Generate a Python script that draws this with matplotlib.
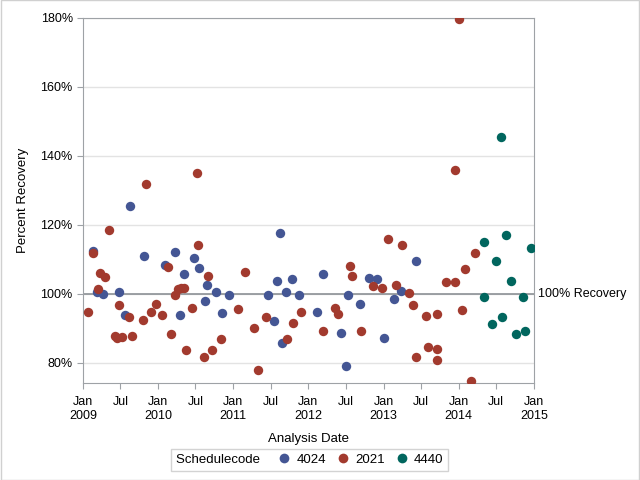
import matplotlib.pyplot as plt
import matplotlib.dates as mdates
import pandas as pd
from matplotlib.lines import Line2D
from matplotlib.patches import Rectangle

plt.rcParams['font.family'] = ['Liberation Sans', 'DejaVu Sans']

# schedule code 4024
dates_4024 = ['2009-02-16', '2009-03-08', '2009-04-05', '2009-06-26', '2009-07-21', '2009-08-18',
              '2009-10-22', '2010-02-05', '2010-03-21', '2010-04-19', '2010-05-04', '2010-06-22',
              '2010-07-16', '2010-08-15', '2010-08-25', '2010-10-09', '2010-11-06', '2010-12-10',
              '2011-06-17', '2011-07-16', '2011-07-31', '2011-08-15', '2011-08-26', '2011-09-13',
              '2011-10-12', '2011-11-16', '2012-02-10', '2012-03-11', '2012-06-07', '2012-07-01',
              '2012-07-11', '2012-09-08', '2012-10-22', '2012-11-30', '2013-01-04', '2013-02-22',
              '2013-03-26', '2013-06-07']
rec_4024 = [112.5, 100.5, 99.9, 100.5, 93.8, 125.4,
            110.9, 108.3, 112.1, 93.9, 105.7, 110.4,
            107.4, 97.9, 102.5, 100.6, 94.5, 99.6,
            99.8, 92.1, 103.7, 117.6, 85.7, 100.5,
            104.3, 99.8, 94.7, 105.7, 88.7, 79.0,
            99.7, 97.0, 104.6, 104.3, 87.2, 98.5,
            100.8, 109.5]

# schedule code 2021
dates_2021 = ['2009-01-23', '2009-02-16', '2009-03-13', '2009-03-25', '2009-04-19', '2009-05-08',
              '2009-06-05', '2009-06-14', '2009-06-26', '2009-07-11', '2009-08-10', '2009-08-26',
              '2009-10-17', '2009-11-04', '2009-11-28', '2009-12-19', '2010-01-21', '2010-02-18',
              '2010-03-06', '2010-03-21', '2010-04-08', '2010-04-22', '2010-05-05', '2010-05-18',
              '2010-06-12', '2010-07-06', '2010-07-11', '2010-08-10', '2010-08-29', '2010-09-18',
              '2010-11-01', '2011-01-23', '2011-02-28', '2011-04-10', '2011-04-29', '2011-06-07',
              '2011-09-18', '2011-10-17', '2011-11-25', '2012-03-11', '2012-05-09', '2012-05-24',
              '2012-07-21', '2012-07-31', '2012-09-13', '2012-11-11', '2012-12-24', '2013-01-21',
              '2013-03-01', '2013-03-31', '2013-05-04', '2013-05-23', '2013-06-07', '2013-07-26',
              '2013-08-05', '2013-09-18', '2013-09-18', '2013-09-18', '2013-10-31', '2013-12-14',
              '2013-12-14', '2014-01-03', '2014-01-17', '2014-01-31', '2014-03-01', '2014-03-20']
rec_2021 = [94.7, 112.0, 101.4, 106.0, 104.8, 118.6,
            87.8, 87.1, 96.8, 87.6, 93.4, 87.7,
            92.4, 131.9, 94.9, 97.0, 93.8, 107.8,
            88.4, 99.8, 101.5, 101.7, 101.8, 83.7,
            95.9, 135.0, 114.1, 81.6, 105.3, 83.7,
            86.9, 95.6, 106.3, 90.0, 78.0, 93.2,
            86.9, 91.5, 94.7, 89.2, 95.9, 94.3,
            108.0, 105.1, 89.2, 102.2, 101.6, 115.9,
            102.5, 114.1, 100.2, 96.7, 81.6, 93.5,
            84.5, 94.2, 84.0, 80.8, 103.4, 103.4,
            135.9, 179.8, 95.3, 107.2, 74.8, 111.8]

# schedule code 4440
dates_4440 = ['2014-05-02', '2014-05-02', '2014-06-12', '2014-07-01', '2014-07-26', '2014-07-31',
              '2014-08-19', '2014-09-12', '2014-10-09', '2014-11-11', '2014-11-18', '2014-12-17']
rec_4440 = [115.0, 99.1, 91.3, 109.5, 145.4, 93.2,
            117.0, 103.7, 88.4, 99.1, 89.2, 113.3]

series = [('4024', dates_4024, rec_4024, '#445694'),
          ('2021', dates_2021, rec_2021, '#A23A2E'),
          ('4440', dates_4440, rec_4440, '#01665E')]

fig = plt.figure(figsize=(6.4, 4.8), dpi=100)
ax = fig.add_axes([0.130, 0.203, 0.704, 0.7595])

for code, d, v, c in series:
    ax.scatter(pd.to_datetime(d), v, s=46, color=c, linewidths=0, zorder=3)

ax.axhline(100, color='#8C9196', lw=1.2, zorder=2)
ax.text(1.01, 100, '100% Recovery', transform=ax.get_yaxis_transform(),
        va='center', ha='left', fontsize=9)

ax.set_xlim(pd.Timestamp('2009-01-01'), pd.Timestamp('2015-01-01'))
ax.set_ylim(74.3, 180)
ax.set_yticks([80, 100, 120, 140, 160, 180])
ax.set_yticklabels([f'{t}%' for t in [80, 100, 120, 140, 160, 180]])
ax.yaxis.grid(True, color='#E3E3E3', lw=1)
ax.set_axisbelow(True)

ax.xaxis.set_major_locator(mdates.MonthLocator(bymonth=[1, 7]))
ticks = ax.get_xticks()
labels = []
for t in ticks:
    dt = mdates.num2date(t)
    labels.append(f'Jan\n{dt.year}' if dt.month == 1 else 'Jul')
ax.set_xticks(ticks)
ax.set_xticklabels(labels)

for s in ax.spines.values():
    s.set_color('#9EA2A6')
ax.tick_params(colors='#9EA2A6', labelcolor='black', labelsize=9, length=4)
ax.tick_params(axis='x', pad=6)

ax.set_xlabel('Analysis Date', fontsize=9.5, labelpad=8)
ax.set_ylabel('Percent Recovery', fontsize=9.5, labelpad=8)

handles = []
names = []
for code, d, v, c in series:
    handles.append(Line2D([], [], linestyle='none', marker='o', markersize=7,
                          markerfacecolor=c, markeredgewidth=0))
    names.append(code)
leg = fig.legend(handles, names, title='Schedulecode  ', title_fontsize=9.5,
                 loc='center', bbox_to_anchor=(0.4836, 0.0417), ncol=3,
                 fontsize=9.5, frameon=True, fancybox=False, edgecolor='#C8C8C8',
                 handlelength=0.8, handletextpad=0.5, columnspacing=0.9,
                 borderpad=0.35)
# put the title on the same row as the entries
box = leg.get_children()[0]
title_box, entries_box = box.get_children()
box._children = [entries_box]
entries_box._children = [title_box] + entries_box.get_children()

fig.add_artist(Rectangle((0.001, 0.001), 0.998, 0.998, transform=fig.transFigure,
                         fill=False, edgecolor='#D0D0D0', lw=1))

fig.savefig('out.png', dpi=100)
